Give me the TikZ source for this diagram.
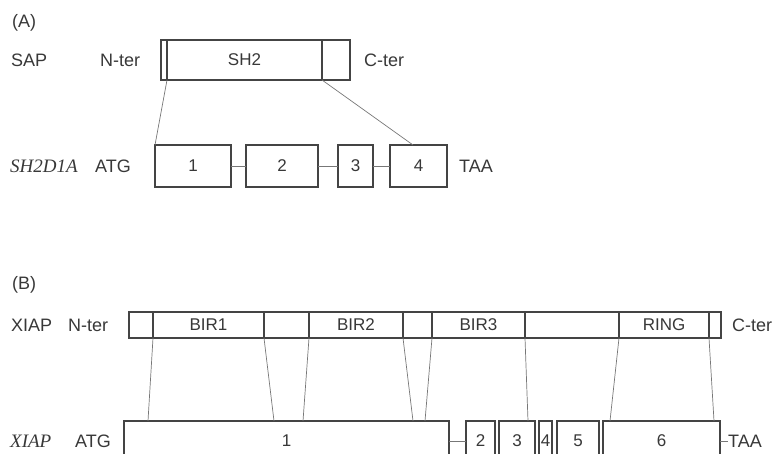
\documentclass[tikz,border=0pt]{standalone}
\usepackage{fontspec}
\setmainfont{Liberation Sans}
\newfontfamily\tmsfont{Liberation Serif}
\usetikzlibrary{calc}
\definecolor{txt}{HTML}{383838}
\definecolor{edge}{HTML}{444444}
\definecolor{link}{HTML}{777777}
\tikzset{
  seg/.style={draw=edge, line width=1.2pt, fill=white, inner sep=0pt, outer sep=0pt,
     text=txt, font=\fontsize{17}{19}\selectfont},
  lbl/.style={text=txt, font=\fontsize{18}{20}\selectfont, inner sep=0pt},
  glbl/.style={text=txt, font=\fontsize{19}{21}\selectfont\tmsfont\itshape, inner sep=0pt},
  maplink/.style={draw=link, line width=0.7pt},
  intron/.style={draw=link, line width=0.8pt}
}
\newcommand{\segbox}[6]{% name, x1, y1, x2, y2, text
  \node[seg, minimum width={(#4-#2)*1pt}, minimum height={(#5-#3)*1pt}]
     (#1) at ({(#2+#4)/2},{(#3+#5)/2}) {#6};}
\begin{document}
\begin{tikzpicture}[x=1pt,y=-1pt]
\path[use as bounding box] (0,0) rectangle (778,454);
\clip (0,0) rectangle (778,454);

% ---------- (A) ----------
\node[lbl, anchor=west] (labA) at (12,23) {(A)};
\node[lbl, anchor=west] (sap) at (11,60) {SAP};
\node[lbl, anchor=west] (nterA) at (100,60) {N-ter};
\node[lbl, anchor=west] (cterA) at (364,60) {C-ter};

\segbox{a0}{161}{40}{167}{80}{}
\segbox{sh2}{167}{40}{322}{80}{SH2}
\segbox{a2}{322}{40}{350}{80}{}

\node[glbl, anchor=west] (sh2d1a) at (10,166) {SH2D1A};
\node[lbl, anchor=west] (atgA) at (95,166) {ATG};
\node[lbl, anchor=west] (taaA) at (459,166) {TAA};

\segbox{ax1}{155}{145}{231}{187}{1}
\segbox{ax2}{246}{145}{318}{187}{2}
\segbox{ax3}{338}{145}{373}{187}{3}
\segbox{ax4}{390}{145}{447}{187}{4}

\draw[intron] (ax1.east) -- (ax2.west);
\draw[intron] (ax2.east) -- (ax3.west);
\draw[intron] (ax3.east) -- (ax4.west);

\coordinate (a4top) at ($(ax4.north west)+(23,0)$);
\draw[maplink] (a0.south east) -- (ax1.north west);
\draw[maplink] (sh2.south east) -- (a4top);

% ---------- (B) ----------
\node[lbl, anchor=west] (labB) at (12,285) {(B)};
\node[lbl, anchor=west] (xiapP) at (11,325) {XIAP};
\node[lbl, anchor=west] (nterB) at (68,325) {N-ter};
\node[lbl, anchor=west] (cterB) at (732,325) {C-ter};

\segbox{b0}{129}{312}{153}{338}{}
\segbox{bir1}{153}{312}{264}{338}{BIR1}
\segbox{b2}{264}{312}{309}{338}{}
\segbox{bir2}{309}{312}{403}{338}{BIR2}
\segbox{b4}{403}{312}{432}{338}{}
\segbox{bir3}{432}{312}{525}{338}{BIR3}
\segbox{b6}{525}{312}{619}{338}{}
\segbox{ring}{619}{312}{709}{338}{RING}
\segbox{b8}{709}{312}{721}{338}{}

\node[glbl, anchor=west] (xiapG) at (10,441) {XIAP};
\node[lbl, anchor=west] (atgB) at (75,441) {ATG};
\node[lbl, anchor=west] (taaB) at (728,441) {TAA};

\segbox{bx1}{124}{421}{449}{461}{1}
\segbox{bx2}{466}{421}{495}{461}{2}
\segbox{bx3}{499}{421}{535}{461}{3}
\segbox{bx4}{539}{421}{552}{461}{4}
\segbox{bx5}{557}{421}{599}{461}{5}
\segbox{bx6}{603}{421}{720}{461}{6}

\draw[intron] (bx1.east) -- (bx2.west);
\draw[intron] (bx6.east) -- (taaB.west);

\coordinate (m1) at ($(bx1.north west)+(24,0)$);
\coordinate (m2) at ($(bx1.north west)+(150,0)$);
\coordinate (m3) at ($(bx1.north west)+(179,0)$);
\coordinate (m4) at ($(bx1.north west)+(289,0)$);
\coordinate (m5) at ($(bx1.north west)+(301,0)$);
\coordinate (m6) at ($(bx3.north west)+(29,0)$);
\coordinate (m7) at ($(bx6.north west)+(7,0)$);
\coordinate (m8) at ($(bx6.north west)+(111,0)$);

\draw[maplink] (bir1.south west) -- (m1);
\draw[maplink] (bir1.south east) -- (m2);
\draw[maplink] (bir2.south west) -- (m3);
\draw[maplink] (bir2.south east) -- (m4);
\draw[maplink] (bir3.south west) -- (m5);
\draw[maplink] (bir3.south east) -- (m6);
\draw[maplink] (ring.south west) -- (m7);
\draw[maplink] (ring.south east) -- (m8);
\end{tikzpicture}
\end{document}
